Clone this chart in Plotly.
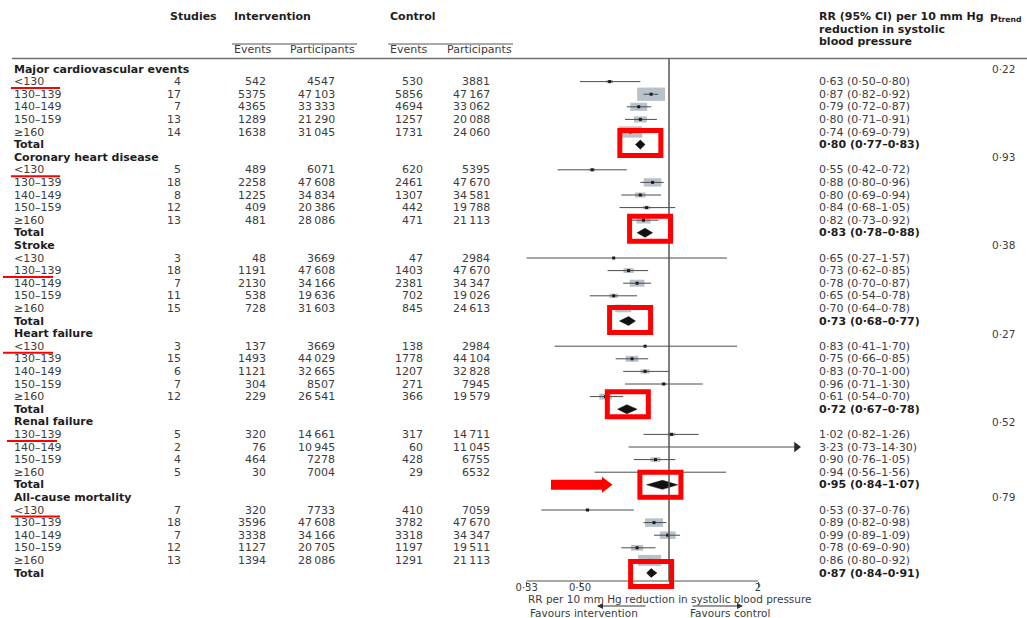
import math
import plotly.graph_objects as go

# ---------------- data ----------------
groups = ["Major cardiovascular events", "Coronary heart disease", "Stroke",
          "Heart failure", "Renal failure", "All-cause mortality"]
p_trend = [0.22, 0.93, 0.38, 0.27, 0.52, 0.79]

strata = [
    ["<130", "130–139", "140–149", "150–159", "≥160"],
    ["<130", "130–139", "140–149", "150–159", "≥160"],
    ["<130", "130–139", "140–149", "150–159", "≥160"],
    ["<130", "130–139", "140–149", "150–159", "≥160"],
    ["130–139", "140–149", "150–159", "≥160"],
    ["<130", "130–139", "140–149", "150–159", "≥160"],
]

studies = [4, 17, 7, 13, 14,
           5, 18, 8, 12, 13,
           3, 18, 7, 11, 15,
           3, 15, 6, 7, 12,
           5, 2, 4, 5,
           7, 18, 7, 12, 13]
int_events = [542, 5375, 4365, 1289, 1638,
              489, 2258, 1225, 409, 481,
              48, 1191, 2130, 538, 728,
              137, 1493, 1121, 304, 229,
              320, 76, 464, 30,
              320, 3596, 3338, 1127, 1394]
int_participants = [4547, 47103, 33333, 21290, 31045,
                    6071, 47608, 34834, 20386, 28086,
                    3669, 47608, 34166, 19636, 31603,
                    3669, 44029, 32665, 8507, 26541,
                    14661, 10945, 7278, 7004,
                    7733, 47608, 34166, 20705, 28086]
ctl_events = [530, 5856, 4694, 1257, 1731,
              620, 2461, 1307, 442, 471,
              47, 1403, 2381, 702, 845,
              138, 1778, 1207, 271, 366,
              317, 60, 428, 29,
              410, 3782, 3318, 1197, 1291]
ctl_participants = [3881, 47167, 33062, 20088, 24060,
                    5395, 47670, 34581, 19788, 21113,
                    2984, 47670, 34347, 19026, 24613,
                    2984, 44104, 32828, 7945, 19579,
                    14711, 11045, 6755, 6532,
                    7059, 47670, 34347, 19511, 21113]
rr = [0.63, 0.87, 0.79, 0.80, 0.74,
      0.55, 0.88, 0.80, 0.84, 0.82,
      0.65, 0.73, 0.78, 0.65, 0.70,
      0.83, 0.75, 0.83, 0.96, 0.61,
      1.02, 3.23, 0.90, 0.94,
      0.53, 0.89, 0.99, 0.78, 0.86]
rr_low = [0.50, 0.82, 0.72, 0.71, 0.69,
          0.42, 0.80, 0.69, 0.68, 0.73,
          0.27, 0.62, 0.70, 0.54, 0.64,
          0.41, 0.66, 0.70, 0.71, 0.54,
          0.82, 0.73, 0.76, 0.56,
          0.37, 0.82, 0.89, 0.69, 0.80]
rr_high = [0.80, 0.92, 0.87, 0.91, 0.79,
           0.72, 0.96, 0.94, 1.05, 0.92,
           1.57, 0.85, 0.87, 0.78, 0.78,
           1.70, 0.85, 1.00, 1.30, 0.70,
           1.26, 14.30, 1.05, 1.56,
           0.76, 0.98, 1.09, 0.90, 0.92]
total_rr = [0.80, 0.83, 0.73, 0.72, 0.95, 0.87]
total_low = [0.77, 0.78, 0.68, 0.67, 0.84, 0.84]
total_high = [0.83, 0.88, 0.77, 0.78, 1.07, 0.91]

tick_values = [0.33, 0.50, 2]
tick_labels = ["0·33", "0·50", "2"]

# ---------------- layout constants ----------------
W, H = 1027, 618
ROW0_PX = 69.0          # pixel centre of the first table row
ROW_STEP = 12.6         # pixel height of one row
REF_PX = 669.0          # pixel position of RR = 1
PX_PER_LN = 128.4       # pixels per natural-log unit of RR
AXIS_Y_PX = 581.0
AXIS_MIN = tick_values[0]
AXIS_MAX = tick_values[-1]
ARROW_LIMIT = 2.7       # CIs beyond this are cut and drawn with an arrow

FONT = "DejaVu Sans"
TXT = "#3c3c3c"
BOLD = "#1e1e1e"
BOX = "#b9c1cb"
LINE = "#4a4a4a"
RED = "#ff0000"

ln10 = math.log(10)
x_lo = -REF_PX / (PX_PER_LN * ln10)
x_hi = (W - REF_PX) / (PX_PER_LN * ln10)
y_top = -ROW0_PX / ROW_STEP
y_bot = (H - ROW0_PX) / ROW_STEP


def px(x):
    return x / W


def py(y):
    return 1 - y / H


def row_px(r):
    return ROW0_PX + ROW_STEP * r


def shift_rr(v, dpx):
    """RR value lying dpx pixels to the right of v on the log axis."""
    return v * math.exp(dpx / PX_PER_LN)


def fmt_n(n):
    s = str(n)
    return s[:-3] + "\u2009" + s[-3:] if len(s) >= 5 else s


def fmt_rr(v):
    return f"{v:.2f}".replace(".", "·")


def esc(s):
    return s.replace("<", "&lt;")


annotations = []
shapes = []


def text(x, y, s, anchor="left", bold=False, size=11, yref="y", color=None):
    annotations.append(dict(
        x=px(x), xref="paper", y=y, yref=yref, text=f"<b>{s}</b>" if bold else s,
        showarrow=False, xanchor=anchor, yanchor="middle",
        font=dict(family=FONT, size=size, color=color or (BOLD if bold else TXT)),
    ))


# ---------------- build rows ----------------
ci_x, ci_y = [], []
pt_x, pt_y = [], []
arrow_x, arrow_y = [], []
diamonds = []
total_rows = []

r = 0
k = 0
for g, name in enumerate(groups):
    text(12, r, name, bold=True)
    text(990, r, fmt_rr(p_trend[g]), size=10.5)
    r += 1
    for label in strata[g]:
        text(12, r, esc(label))
        text(183, r, str(studies[k]), anchor="right")
        text(268, r, fmt_n(int_events[k]), anchor="right")
        text(337, r, fmt_n(int_participants[k]), anchor="right")
        text(425, r, fmt_n(ctl_events[k]), anchor="right")
        text(492, r, fmt_n(ctl_participants[k]), anchor="right")
        text(817, r, f"{fmt_rr(rr[k])} ({fmt_rr(rr_low[k])}–{fmt_rr(rr_high[k])})")

        lo = max(rr_low[k], AXIS_MIN)
        hi = rr_high[k]
        if hi > ARROW_LIMIT:
            hi = ARROW_LIMIT
            arrow_x.append(ARROW_LIMIT)
            arrow_y.append(r)
        ci_x += [lo, hi, None]
        ci_y += [r, r, None]
        if rr[k] <= ARROW_LIMIT:
            pt_x.append(rr[k])
            pt_y.append(r)
            # box area proportional to the inverse-variance weight
            inv_se = 3.92 / math.log(rr_high[k] / rr_low[k])
            bw = 0.82 * inv_se
            bh = bw / 2.1
            shapes.append(dict(
                type="rect", xref="x", yref="y", layer="below",
                x0=shift_rr(rr[k], -bw / 2), x1=shift_rr(rr[k], bw / 2),
                y0=r - bh / 2 / ROW_STEP, y1=r + bh / 2 / ROW_STEP,
                fillcolor=BOX, line=dict(width=0),
            ))
        k += 1
        r += 1
    text(12, r, "Total", bold=True)
    text(817, r, f"{fmt_rr(total_rr[g])} ({fmt_rr(total_low[g])}–{fmt_rr(total_high[g])})", bold=True)
    diamonds.append(([total_low[g], total_rr[g], total_high[g], total_rr[g], total_low[g]],
                     [r, r - 0.36, r, r + 0.36, r]))
    total_rows.append(r)
    r += 1

fig = go.Figure()
fig.add_trace(go.Scatter(x=ci_x, y=ci_y, mode="lines", line=dict(color=LINE, width=1),
                         hoverinfo="skip"))
fig.add_trace(go.Scatter(x=pt_x, y=pt_y, mode="markers",
                         marker=dict(symbol="square", size=3, color="#1a1a1a"),
                         hoverinfo="skip"))
fig.add_trace(go.Scatter(x=arrow_x, y=arrow_y, mode="markers",
                         marker=dict(symbol="triangle-right", size=9, color="#2a2a2a"),
                         hoverinfo="skip"))
for dx, dy in diamonds:
    fig.add_trace(go.Scatter(x=dx, y=dy, mode="lines", fill="toself", fillcolor="#111111",
                             line=dict(color="#111111", width=0.5), hoverinfo="skip"))

# ---------------- header ----------------
text(168, py(17), "Studies", bold=True, yref="paper")
text(232, py(17), "Intervention", bold=True, yref="paper")
text(388, py(17), "Control", bold=True, yref="paper")
text(232, py(49), "Events", yref="paper")
text(288, py(49), "Participants", yref="paper")
text(388, py(49), "Events", yref="paper")
text(445, py(49), "Participants", yref="paper")
text(817, py(17), "RR (95% CI) per 10 mm Hg", bold=True, yref="paper")
text(817, py(29), "reduction in systolic", bold=True, yref="paper")
text(817, py(41), "blood pressure", bold=True, yref="paper")
text(988, py(17), "p<sub>trend</sub>", bold=True, yref="paper")

for x0, x1 in [(232, 357), (388, 513)]:
    shapes.append(dict(type="line", xref="paper", yref="paper", x0=px(x0), x1=px(x1),
                       y0=py(44), y1=py(44), line=dict(color="#555555", width=1)))
shapes.append(dict(type="line", xref="paper", yref="paper", x0=px(12), x1=1,
                   y0=py(58.5), y1=py(58.5), line=dict(color="#707070", width=1.5)))

# reference line at RR = 1 and the drawn part of the x axis
shapes.append(dict(type="line", xref="x", yref="paper", x0=1, x1=1,
                   y0=py(58.5), y1=py(AXIS_Y_PX), line=dict(color="#555555", width=1.5)))
shapes.append(dict(type="line", xref="x", yref="paper", x0=AXIS_MIN, x1=AXIS_MAX,
                   y0=py(AXIS_Y_PX), y1=py(AXIS_Y_PX), line=dict(color="#555555", width=1.2)))

# axis title and direction labels
text(670, py(598.5), "RR per 10 mm Hg reduction in systolic blood pressure", anchor="center",
     size=10.5, yref="paper")
text(584, py(613), "Favours intervention", anchor="center", size=10.5, yref="paper")
text(730, py(613), "Favours control", anchor="center", size=10.5, yref="paper")
for head, tail_dx in [(597, 50), (743, -52)]:
    annotations.append(dict(x=px(head), y=py(606), xref="paper", yref="paper", text="",
                            showarrow=True, ax=tail_dx, ay=0, arrowhead=2, arrowsize=1,
                            arrowwidth=1.2, arrowcolor="#333333"))

# ---------------- red highlights ----------------
underline_spans = [(11, 60), (11, 60), (3, 53), (3, 53), (7, 57), (11, 60)]
underline_rows = [1, 8, 16, 22, 29, 35]
for (x0, x1), ur in zip(underline_spans, underline_rows):
    yy = row_px(ur) + 6.5
    shapes.append(dict(type="line", xref="paper", yref="paper", x0=px(x0), x1=px(x1),
                       y0=py(yy), y1=py(yy), line=dict(color=RED, width=2)))

# frames around the pooled estimates (pixel nudges: right, up)
box_nudge = [(0, 1.5), (5, 4), (1.5, 1), (1, 5), (-2, 0), (0, -1)]
for g, tr in enumerate(total_rows):
    ndx, ndy = box_nudge[g]
    cy = tr - ndy / ROW_STEP
    shapes.append(dict(
        type="rect", xref="x", yref="y", layer="above",
        x0=shift_rr(total_rr[g], -20.5 + ndx), x1=shift_rr(total_rr[g], 20.5 + ndx),
        y0=cy - 12.5 / ROW_STEP, y1=cy + 12.5 / ROW_STEP,
        line=dict(color=RED, width=5), fillcolor="rgba(0,0,0,0)",
    ))

ay = row_px(total_rows[4])
pts = [(551, ay - 5), (602, ay - 5), (602, ay - 8), (612.5, ay), (602, ay + 8),
       (602, ay + 5), (551, ay + 5)]
path = "M " + " L ".join(f"{px(x):.5f},{py(y):.5f}" for x, y in pts) + " Z"
shapes.append(dict(type="path", xref="paper", yref="paper", path=path,
                   fillcolor=RED, line=dict(color=RED, width=0)))

fig.update_layout(
    width=W, height=H, margin=dict(l=0, r=0, t=0, b=0),
    paper_bgcolor="white", plot_bgcolor="white", showlegend=False,
    xaxis=dict(type="log", range=[x_lo, x_hi], domain=[0, 1], anchor="free",
               position=py(AXIS_Y_PX), showgrid=False, zeroline=False, showline=False,
               tickmode="array", tickvals=tick_values, ticktext=tick_labels,
               ticks="outside", ticklen=5, tickwidth=1.2, tickcolor="#555555",
               ticklabelstandoff=-8,
               tickfont=dict(family=FONT, size=10, color=TXT), fixedrange=True),
    yaxis=dict(range=[y_bot, y_top], domain=[0, 1], visible=False, fixedrange=True),
    annotations=annotations, shapes=shapes,
)

fig.write_html("out.html")
